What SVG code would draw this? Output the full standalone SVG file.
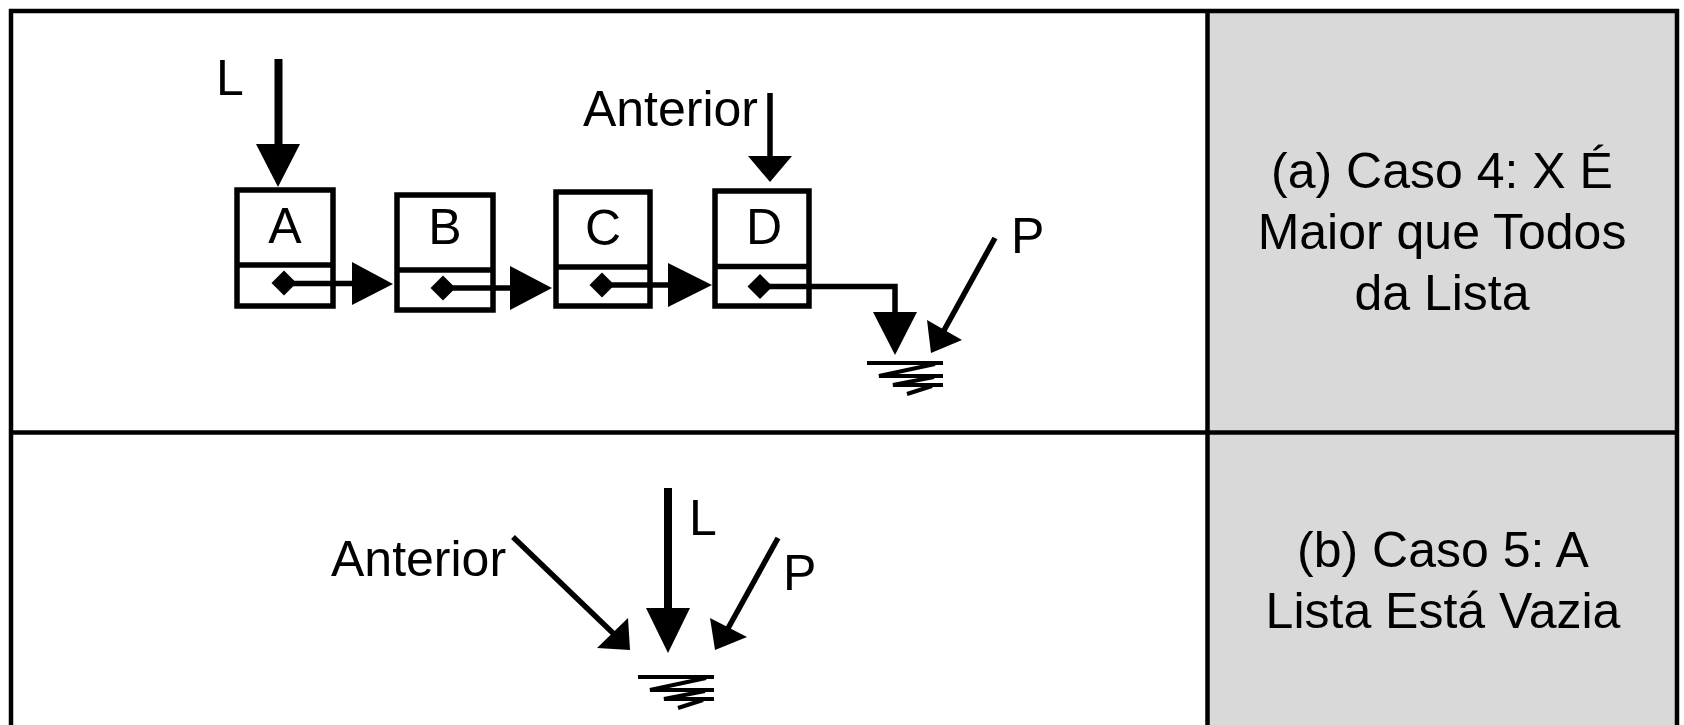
<svg xmlns="http://www.w3.org/2000/svg" width="1684" height="725" viewBox="0 0 1684 725">
<style>
  text { font-family: "Liberation Sans", Arial, sans-serif; font-size: 50px; fill: #000; }
  .mid { text-anchor: middle; }
  .end { text-anchor: end; }
  .frame { fill: none; stroke: #000; stroke-width: 4.5; }
  .box { fill: #fff; stroke: #000; stroke-width: 5.5; }
  .div { stroke: #000; stroke-width: 5.5; }
  .thick { fill: none; stroke: #000; stroke-width: 8; }
  .thin { fill: none; stroke: #000; stroke-width: 5.5; }
  .head { fill: #000; stroke: none; }
  .gnd { fill: none; stroke: #000; stroke-width: 4; }
</style>
<defs>
  <path id="ground" d="M0,0 H76 M68,1 L12,13 H76 M67,14 L26,22 H76 M65,23 L40,31"/>
</defs>
<rect x="0" y="0" width="1684" height="725" fill="#fff"/>
<g id="frame">
  <rect x="1207.5" y="11" width="469.5" height="720" fill="#d9d9d9"/>
  <line class="frame" x1="9" y1="11" x2="1679" y2="11"/>
  <line class="frame" x1="11" y1="9" x2="11" y2="730"/>
  <line class="frame" x1="1677" y1="9" x2="1677" y2="730"/>
  <line class="frame" x1="1207.5" y1="11" x2="1207.5" y2="730"/>
  <line class="frame" x1="11" y1="432.5" x2="1677" y2="432.5"/>
</g>
<g id="caption-a">
  <text class="mid" x="1442" y="188">(a) Caso 4: X É</text>
  <text class="mid" x="1442" y="249">Maior que Todos</text>
  <text class="mid" x="1442" y="310">da Lista</text>
</g>
<g id="caption-b">
  <text class="mid" x="1443" y="567">(b) Caso 5: A</text>
  <text class="mid" x="1443" y="628">Lista Está Vazia</text>
</g>
<g id="node-A">
  <rect class="box" x="237" y="190" width="96" height="116"/>
  <line class="div" x1="237" y1="265" x2="333" y2="265"/>
  <text class="mid" x="285" y="243">A</text>
</g>
<g id="node-B">
  <rect class="box" x="397" y="195" width="96" height="115"/>
  <line class="div" x1="397" y1="270" x2="493" y2="270"/>
  <text class="mid" x="445" y="244">B</text>
</g>
<g id="node-C">
  <rect class="box" x="556" y="192" width="94" height="114"/>
  <line class="div" x1="556" y1="267" x2="650" y2="267"/>
  <text class="mid" x="603" y="245">C</text>
</g>
<g id="node-D">
  <rect class="box" x="715" y="191" width="94" height="115"/>
  <line class="div" x1="715" y1="266.5" x2="809" y2="266.5"/>
  <text class="mid" x="764" y="244">D</text>
</g>
<g id="labels">
  <text x="216" y="95">L</text>
  <text class="end" x="758" y="126">Anterior</text>
  <text x="1011" y="253">P</text>
  <text x="331" y="576">Anterior</text>
  <text x="689" y="535">L</text>
  <text x="783" y="590">P</text>
</g>
<g id="ground-a">
  <use href="#ground" class="gnd" x="867" y="363"/>
</g>
<g id="ground-b">
  <use href="#ground" class="gnd" x="638" y="677"/>
</g>
<g id="connectors">
  <line class="thick" x1="278.5" y1="59" x2="278.5" y2="146"/>
  <polygon class="head" points="256,144 300,144 278,187"/>
  <line class="thin" x1="770" y1="93" x2="770" y2="158"/>
  <polygon class="head" points="748,156 792,156 770,182"/>
  <polygon class="head" points="271.5,283 284,270.5 296.5,283 284,295.5"/>
  <line class="thin" x1="284" y1="283.5" x2="354" y2="283.5"/>
  <polygon class="head" points="352,262 352,305 393,284"/>
  <polygon class="head" points="430.5,288 443,275.5 455.5,288 443,300.5"/>
  <line class="thin" x1="443" y1="288" x2="512" y2="288"/>
  <polygon class="head" points="510,266 510,310 552,288"/>
  <polygon class="head" points="589.5,285 602,272.5 614.5,285 602,297.5"/>
  <line class="thin" x1="602" y1="285" x2="670" y2="285"/>
  <polygon class="head" points="668,263 668,307 712,285"/>
  <polygon class="head" points="747.5,286.5 760,274 772.5,286.5 760,299"/>
  <polyline class="thin" points="760,286.5 895,286.5 895,314"/>
  <polygon class="head" points="873,312 917,312 895,355"/>
  <line class="thin" x1="995" y1="238" x2="942" y2="334"/>
  <polygon class="head" points="927,320 962,340 931,353"/>
  <line class="thin" x1="513" y1="537" x2="616" y2="636"/>
  <polygon class="head" points="597,648 628,618 630,650"/>
  <line class="thick" x1="668" y1="488" x2="668" y2="610"/>
  <polygon class="head" points="646,608 690,608 668,653"/>
  <line class="thin" x1="778" y1="538" x2="726" y2="632"/>
  <polygon class="head" points="710,618 747,637 715,650"/>
</g>
</svg>
